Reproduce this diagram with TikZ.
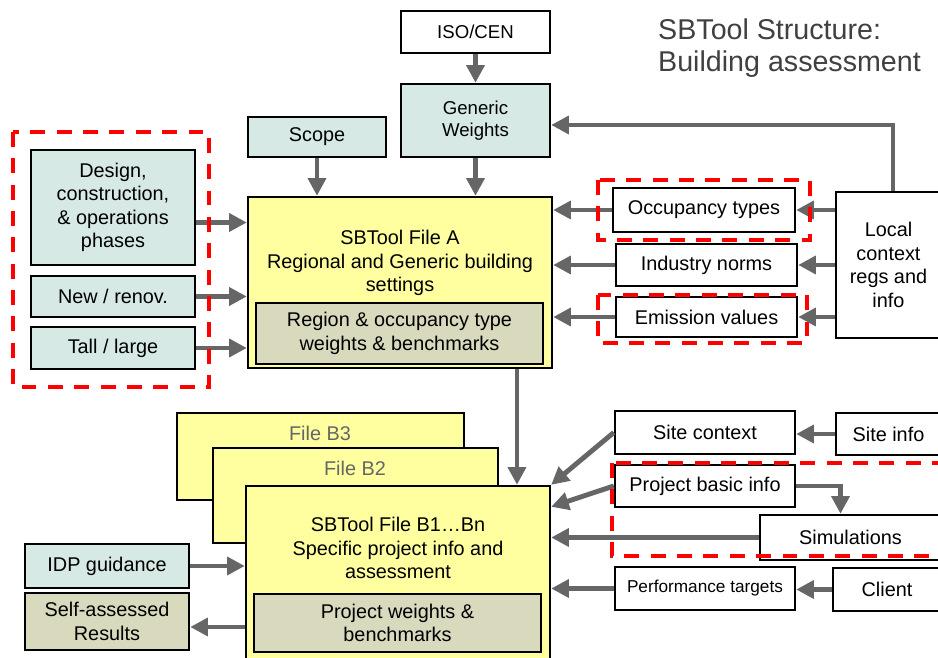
\documentclass[tikz,border=0pt]{standalone}
\usepackage{fontspec}
\setmainfont{Liberation Sans}
\usetikzlibrary{arrows.meta,positioning,calc}
\definecolor{sbteal}{RGB}{214,233,228}
\definecolor{sbyellow}{RGB}{255,255,160}
\definecolor{sbtan}{RGB}{217,217,190}
\definecolor{sbgrey}{RGB}{102,102,102}
\definecolor{sbred}{RGB}{255,0,0}
\tikzset{
  sbbox/.style  ={rectangle, draw=black, line width=1.4pt, align=center,
                  inner sep=2pt, font=\fontsize{11.3}{13.4}\selectfont},
  sbinput/.style={sbbox, fill=sbteal},
  sbplain/.style={sbbox, fill=white},
  sbfile/.style ={sbbox, fill=sbyellow},
  sbinner/.style={sbbox, fill=sbtan},
  sbtext/.style ={align=center, inner sep=0pt, font=\fontsize{11.3}{13.4}\selectfont},
  sbflow/.style ={-{Triangle[length=10pt,width=10pt]}, line width=2.8pt, sbgrey},
  sbframe/.style={draw=sbred, line width=2.8pt, dash pattern=on 8.5pt off 6.5pt},
}

\begin{document}
\begin{tikzpicture}[x=0.02cm, y=-0.02cm,
    small/.style={font=\fontsize{10.6}{12.8}\selectfont}]
  \useasboundingbox (0,0) rectangle (938,658);
  % title
  \node[anchor=west, align=left, text=black!75,
        font=\fontsize{16.3}{18.4}\selectfont] (title) at (652,48)
       {SBTool Structure:\\Building assessment};

  % file A and its inputs
  \node[sbplain, small, minimum width=2.98cm, minimum height=0.84cm] (iso) at (475.5,32) {ISO/CEN};
  \node[sbinput, small, minimum width=2.98cm, minimum height=1.46cm] (generic) at (475.5,120.5) {Generic\\Weights};
  \node[sbinput, minimum width=2.76cm, minimum height=0.8cm] (scope) at (317,137) {Scope};
  \node[sbinput, minimum width=3.28cm, minimum height=2.3cm] (design) at (113,207.5)
       {Design,\\construction,\\\& operations\\phases};
  \node[sbinput, minimum width=3.28cm, minimum height=0.82cm] (newren) at (113,296.5) {New / renov.};
  \node[sbinput, minimum width=3.28cm, minimum height=0.84cm] (tall) at (113,348) {Tall / large};
  \node[sbfile, minimum width=6.08cm, minimum height=3.42cm] (fileA) at (400,282.5) {};
  \node[sbtext] (fileAtxt) at (400,263) {SBTool File A\\Regional and Generic building\\settings};
  \node[sbinner, minimum width=5.74cm, minimum height=1.22cm] (regionw) at (399.5,333.5)
       {Region \& occupancy type\\weights \& benchmarks};
  \node[sbplain, minimum width=3.64cm, minimum height=0.88cm] (occ) at (704,210) {Occupancy types};
  \node[sbplain, minimum width=3.62cm, minimum height=0.84cm] (industry) at (706.5,265) {Industry norms};
  \node[sbplain, minimum width=3.62cm, minimum height=0.8cm] (emission) at (706.5,317) {Emission values};
  \node[sbplain, minimum width=2.1cm, minimum height=2.92cm] (local) at (888.5,265)
       {Local\\context\\regs and\\info};

  % files B
  \node[sbfile, minimum width=5.74cm, minimum height=1.74cm] (fileBthree) at (320.5,456.5) {};
  \node[sbtext, text=sbgrey] (bthreetxt) at (320,433) {File B3};
  \node[sbfile, minimum width=5.7cm, minimum height=1.9cm] (fileBtwo) at (355.5,495.5) {};
  \node[sbtext, text=sbgrey] (btwotxt) at (355,468) {File B2};
  \node[sbfile, minimum width=6.08cm, minimum height=3.6cm] (fileBone) at (398,576) {};
  \node[sbtext] (fileBtxt) at (398,548) {SBTool File B1…Bn\\Specific project info and\\assessment};
  \node[sbinner, minimum width=5.74cm, minimum height=1.16cm] (projw) at (397.5,623)
       {Project weights \&\\benchmarks};
  \node[sbinput, minimum width=3.28cm, minimum height=0.88cm] (idp) at (107,566) {IDP guidance};
  \node[sbinner, minimum width=3.28cm, minimum height=1.14cm] (selfres) at (107,621.5)
       {Self-assessed\\Results};
  \node[sbplain, minimum width=3.6cm, minimum height=0.86cm] (sitectx) at (705,432.5) {Site context};
  \node[sbplain, minimum width=2.1cm, minimum height=0.84cm] (siteinfo) at (888.5,434) {Site info};
  \node[sbplain, minimum width=3.6cm, minimum height=0.84cm] (projinfo) at (705,486) {Project basic info};
  \node[sbplain, minimum width=3.62cm, minimum height=0.9cm] (sim) at (850.5,537.5) {Simulations};
  \node[sbplain, font=\fontsize{9.8}{11.8}\selectfont, minimum width=3.6cm, minimum height=0.86cm]
       (perf) at (705,588.5) {Performance targets};
  \node[sbplain, minimum width=2.16cm, minimum height=0.86cm] (client) at (887,589.5) {Client};

  % flows into file A
  \draw[sbflow] (iso) -- (generic);
  \draw[sbflow] (generic.south) -- (generic.south |- fileA.north);
  \draw[sbflow] (scope.south) -- (scope.south |- fileA.north);
  \draw[sbflow] ([xshift=0.09cm]local.north) |- ([yshift=-0.09cm]generic.east);
  \coordinate (designout) at ([yshift=-0.3cm]design.east);
  \draw[sbflow] (designout) -- (designout -| fileA.west);
  \foreach \n in {newren,tall}
    \draw[sbflow] (\n.east) -- (\n.east -| fileA.west);
  \foreach \n in {occ,industry,emission} {
    \draw[sbflow] (local.west |- \n.east) -- (\n.east);
    \draw[sbflow] (\n.west) -- (\n.west -| fileA.east);
  }

  % flows into file B
  \coordinate (afoot) at ([xshift=2.34cm]fileA.south);
  \draw[sbflow] (afoot) -- (afoot |- fileBone.north);
  \draw[sbflow] (siteinfo.west) -- (siteinfo.west -| sitectx.east);
  \draw[sbflow] (client.west) -- (client.west -| perf.east);
  \draw[sbflow] (sitectx.west) -- (fileBone.north east);
  \draw[sbflow] (projinfo.west) -- ([yshift=-0.44cm]fileBone.north east);
  \draw[sbflow] (projinfo.east) -| ([xshift=-0.2cm]sim.north);
  \draw[sbflow] (sim.west) -- (sim.west -| fileBone.east);
  \draw[sbflow] (perf.west) -- (perf.west -| fileBone.east);
  \draw[sbflow] (idp.east) -- (idp.east -| fileBone.west);
  \coordinate (selfin) at ([yshift=-0.11cm]selfres.east);
  \draw[sbflow] (selfin -| fileBone.west) -- (selfin);

  % red frames
  \draw[sbframe] (13,132) rectangle (209,387);
  \draw[sbframe] (598,180) rectangle (810,240);
  \draw[sbframe] (598,295) rectangle (807,343);
  \draw[sbframe] (612,463) rectangle (950,556);
\end{tikzpicture}
\end{document}
